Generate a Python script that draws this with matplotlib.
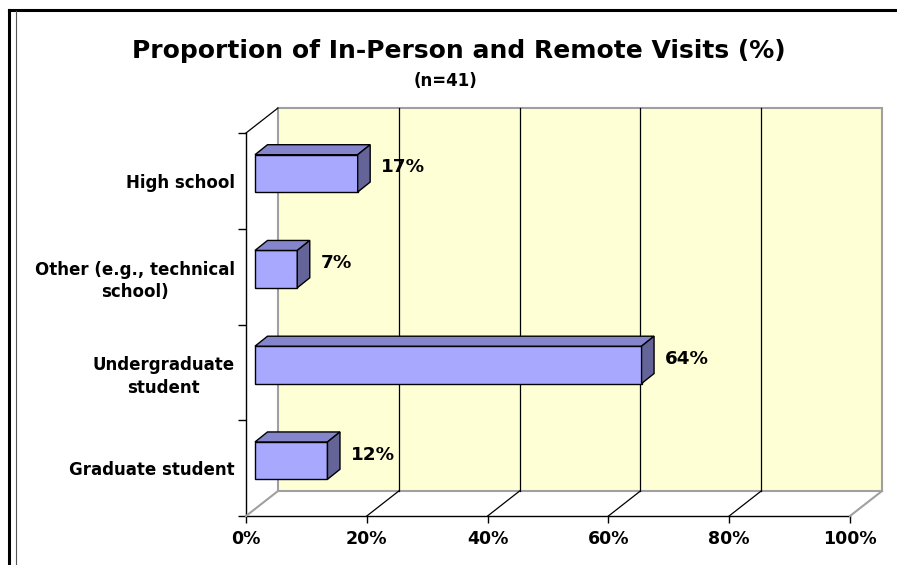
import matplotlib
matplotlib.use("Agg")
import matplotlib.pyplot as plt
import matplotlib.transforms as mtransforms
from matplotlib.patches import Polygon, Rectangle
from matplotlib.lines import Line2D

# data (bottom to top)
categories = ["Graduate student", "Undergraduate\nstudent",
              "Other (e.g., technical\nschool)", "High school"]
values = [12, 64, 7, 17]
xticks = [0, 20, 40, 60, 80, 100]
title = "Proportion of In-Person and Remote Visits (%)"
subtitle = "(n=41)"

W, H, DPI = 897, 565, 100
fig = plt.figure(figsize=(W / DPI, H / DPI), dpi=DPI)
plt.rcParams['font.family'] = ['DejaVu Sans']

# front plane of the plot area
ax = fig.add_axes([246 / W, 49 / H, 604 / W, 383 / H])
ax.set_xlim(0, 100)
ax.set_ylim(-0.5, len(categories) - 0.5)
ax.patch.set_visible(False)
for s in ["top", "right"]:
    ax.spines[s].set_visible(False)
ax.spines["left"].set_linewidth(1)
ax.spines["bottom"].set_linewidth(1)

# 3d depth offsets in pixels
DX, DY = 32, 25


def shifted(dx, dy):
    return ax.transData + mtransforms.ScaledTranslation(dx / DPI, dy / DPI, fig.dpi_scale_trans)


y0, y1 = -0.5, len(categories) - 0.5
back = shifted(DX, DY)

# back wall
ax.add_patch(Rectangle((0, y0), 100, y1 - y0, transform=back, facecolor="#FFFFD6",
                       edgecolor="#A0A0A0", lw=1.5, zorder=0, clip_on=False))
# gridlines on back wall
for t in xticks[1:-1]:
    ax.plot([t, t], [y0, y1], color="black", lw=0.9, transform=back, zorder=1, clip_on=False)
# floor diagonals
for t in xticks:
    col = "#A0A0A0" if t in (0, 100) else "black"
    lw = 1.5 if t in (0, 100) else 0.9
    p0 = ax.transData.transform((t, y0))
    p1 = back.transform((t, y0))
    fig.add_artist(Line2D([p0[0] / W, p1[0] / W], [p0[1] / H, p1[1] / H],
                          color=col, lw=lw, zorder=1))
# left wall top edge
p0 = ax.transData.transform((0, y1))
p1 = back.transform((0, y1))
fig.add_artist(Line2D([p0[0] / W, p1[0] / W], [p0[1] / H, p1[1] / H], color="black", lw=0.9))

# bars
BX, BY = 9, 7.5       # bar front face offset
DBX, DBY = 12.5, 10   # bar depth
bar_h = 0.39
front = shifted(BX, BY)
ax.barh(range(len(values)), values, height=bar_h, color="#A8A8FF", edgecolor="black",
        lw=1, transform=front, zorder=3, clip_on=False)
px_per_y = (ax.transData.transform((0, 1))[1] - ax.transData.transform((0, 0))[1])
px_per_x = (ax.transData.transform((1, 0))[0] - ax.transData.transform((0, 0))[0])
ddx, ddy = DBX / px_per_x, DBY / px_per_y
for i, v in enumerate(values):
    yb, yt = i - bar_h / 2, i + bar_h / 2
    top = [(0, yt), (v, yt), (v + ddx, yt + ddy), (ddx, yt + ddy)]
    side = [(v, yb), (v, yt), (v + ddx, yt + ddy), (v + ddx, yb + ddy)]
    ax.add_patch(Polygon(top, closed=True, facecolor="#8585CC", edgecolor="black", lw=1,
                         transform=front, zorder=3, clip_on=False))
    ax.add_patch(Polygon(side, closed=True, facecolor="#646499", edgecolor="black", lw=1,
                         transform=front, zorder=3, clip_on=False))
    ax.text(v, i, f"{v}%", transform=shifted(BX + DBX + 11, BY + DBY / 2 + 1),
            ha="left", va="center", fontsize=13.2, fontweight="bold", zorder=4)

# axes ticks
ax.set_xticks(xticks)
ax.set_xticklabels([f"{t}%" for t in xticks], fontsize=12.5, fontweight="bold")
ax.tick_params(axis="x", length=5, width=1, pad=5)
ax.set_yticks(range(len(categories)))
ax.set_yticklabels(categories, fontsize=12, fontweight="bold", multialignment="center",
                   linespacing=1.3)
ax.tick_params(axis="y", length=0, pad=8)
ax.set_yticks([k - 0.5 for k in range(len(categories) + 1)], minor=True)
ax.tick_params(axis="y", which="minor", length=6, width=1)

# titles
fig.text(459 / W, 1 - 51 / H, title, ha="center", va="center", fontsize=18, fontweight="bold")
fig.text(445 / W, 1 - 81 / H, subtitle, ha="center", va="center", fontsize=12, fontweight="bold")

# outer frame lines
fig.add_artist(Line2D([9 / W, 1], [1 - 10 / H, 1 - 10 / H], color="black", lw=2.2))
fig.add_artist(Line2D([9 / W, 9 / W], [0, 1 - 10 / H], color="black", lw=2.2))
fig.add_artist(Line2D([16 / W, 16 / W], [0, 1 - 11 / H], color="#555555", lw=0.8))

fig.savefig("out.png", dpi=DPI)
